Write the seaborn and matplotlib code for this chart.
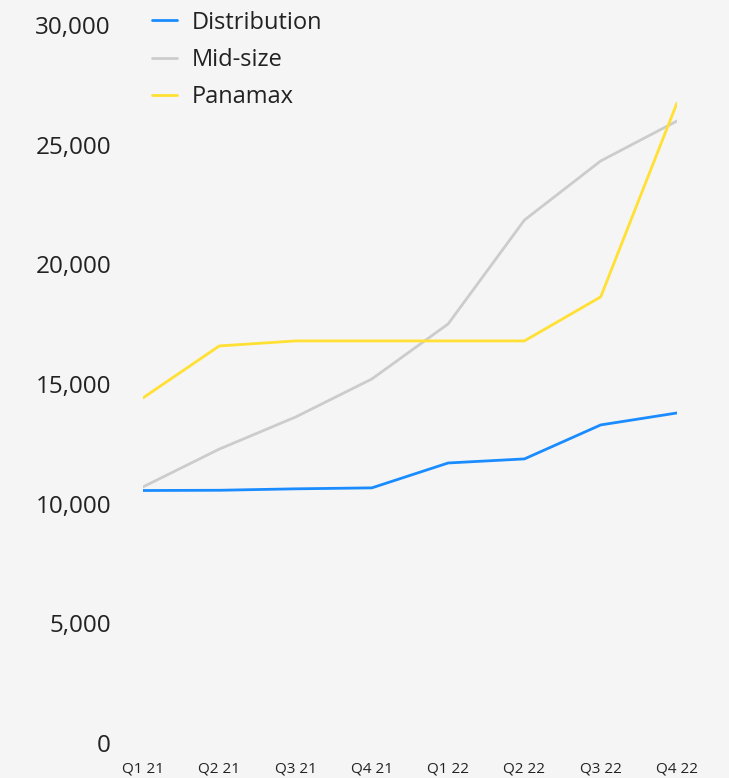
import matplotlib
matplotlib.use("Agg")
import matplotlib.pyplot as plt
import seaborn as sns
import pandas as pd

quarters = ["Q1 21", "Q2 21", "Q3 21", "Q4 21", "Q1 22", "Q2 22", "Q3 22", "Q4 22"]
distribution = [10550, 10560, 10620, 10660, 11700, 11870, 13290, 13790]
mid_size = [10700, 12280, 13620, 15210, 17510, 21850, 24320, 25990]
panamax = [14420, 16590, 16800, 16800, 16800, 16800, 18640, 26740]
series_names = ["Distribution", "Mid-size", "Panamax"]
colors = ["#1a8cff", "#cccccc", "#ffe033"]

rows = []
for name, vals in zip(series_names, [distribution, mid_size, panamax]):
    for i, (q, v) in enumerate(zip(quarters, vals)):
        rows.append({"quarter": q, "idx": i, "series": name, "value": v})
df = pd.DataFrame(rows)

sns.set_style("white")
plt.rcParams["font.family"] = ["Open Sans", "DejaVu Sans"]

fig = plt.figure(figsize=(7.29, 7.78), dpi=100, facecolor="#f5f5f5")
ax = fig.add_axes([143/729, 35/778, (677-143)/729, (743-25)/778])
ax.set_facecolor("#f5f5f5")

sns.lineplot(data=df, x="idx", y="value", hue="series", hue_order=series_names,
             palette=colors, linewidth=2, ax=ax)

ax.set_xlim(0, 7)
ax.set_ylim(0, 30000)
ax.set_xticks(range(len(quarters)))
ax.set_xticklabels(quarters, fontsize=11, color="#222222")
ax.set_yticks([0, 5000, 10000, 15000, 20000, 25000, 30000])
ax.set_yticklabels([f"{v:,}" for v in [0, 5000, 10000, 15000, 20000, 25000, 30000]],
                   fontsize=17.5, color="#222222")
ax.tick_params(axis="y", length=0, pad=23)
ax.tick_params(axis="x", length=0, pad=13)
ax.set_xlabel("")
ax.set_ylabel("")
for s in ax.spines.values():
    s.set_visible(False)
ax.grid(False)

leg = ax.legend(loc="upper left", bbox_to_anchor=(0.0, 1.033), frameon=False,
                fontsize=17, handlelength=1.05, handletextpad=0.62,
                labelspacing=0.56, borderaxespad=0)
for t in leg.get_texts():
    t.set_color("#222222")

fig.savefig("out.png", dpi=100, facecolor=fig.get_facecolor())
